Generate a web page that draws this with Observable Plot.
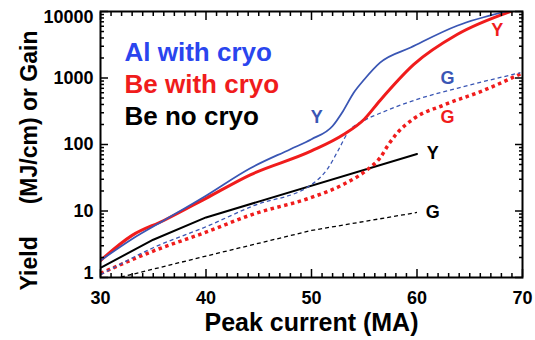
<!DOCTYPE html>
<html><head><meta charset="utf-8">
<script src="https://cdn.jsdelivr.net/npm/d3@7"></script>
<script src="https://cdn.jsdelivr.net/npm/@observablehq/plot@0.6"></script>
<style>
html,body{margin:0;padding:0;background:#fff;}
svg text{white-space:pre;}
g[aria-label="y-axis label"] text{font-size:23px;}
</style></head><body><div id="chart"></div>
<script>
// Peak current (MA) and values for each series
const alYieldI = [30, 33, 36, 40, 44.2, 48, 50, 52, 53, 54, 55, 56.5, 59.4, 63.8, 68.4];
const alYieldV = [1.8, 3.8, 7.2, 17, 44, 85, 120, 190, 320, 600, 950, 1700, 2870, 6100, 10000];
const alGainI = [30, 35, 40, 44.5, 50, 51.6, 52.5, 53.5, 55, 56.5, 59.7, 63.8, 69.8];
const alGainV = [1.1, 2.8, 5.8, 12, 25, 45, 80, 155, 230, 295, 460, 700, 1200];
const beYieldI = [30, 33, 36, 40, 44.2, 50, 53, 55, 56.5, 59.7, 63.8, 69.1];
const beYieldV = [1.8, 4.3, 7.2, 15.5, 35, 80, 140, 240, 460, 1600, 4500, 10300];
const beGainI = [30, 35, 40, 44.5, 50, 53, 55.3, 56.5, 57.3, 58.1, 59.7, 62.5, 66.3, 69.8];
const beGainV = [1.15, 2.5, 4.8, 9, 16, 25, 42, 63, 100, 147, 245, 390, 650, 1150];
const noYieldI = [30, 35, 40, 60];
const noYieldV = [1.4, 3.7, 8, 72];
const noGainI = [30, 40, 50, 60];
const noGainV = [0.85, 2.1, 5.1, 9.5];

const legendLabels = ["Al with cryo", "Be with cryo", "Be no cryo"];
const curveLabels = ["Y", "G", "Y", "G", "Y", "G"];
const curveLabelI = [50.5, 62.9, 67.6, 62.9, 61.5, 61.5];
const curveLabelV = [255, 985, 5150, 255, 73, 9.5];
const xTitle = "Peak current (MA)";
const yTitle = "Yield     (MJ/cm) or Gain     ";

const xMajor = [30, 40, 50, 60, 70];
const xMinor = [31,32,33,34,35,36,37,38,39,41,42,43,44,45,46,47,48,49,51,52,53,54,55,56,57,58,59,61,62,63,64,65,66,67,68,69];
const yMajor = [1, 10, 100, 1000, 10000];
const yMinor = [2,3,4,5,6,7,8,9,20,30,40,50,60,70,80,90,200,300,400,500,600,700,800,900,2000,3000,4000,5000,6000,7000,8000,9000];

const alColor = "#3a56b4", alLegend = "#2a45ee", beColor = "#f01c1c", noColor = "#000000";
const labelColors = [alColor, alColor, beColor, beColor, noColor, noColor];
const legendColors = [alLegend, beColor, noColor];

const rows = (I, V) => I.map((x, i) => ({I: x, v: V[i]}));
const labelRows = curveLabels.map((t, i) => ({t, I: curveLabelI[i], v: curveLabelV[i], c: labelColors[i]}));

const tickOpts = {tickFormat: () => "", label: null, strokeWidth: 1.5};
const yLabelOpts = {anchor: "left", tickSize: 0, tickPadding: 7, fontSize: 18, tickFormat: d => String(d), label: null};

const chart = Plot.plot({
  width: 535, height: 340,
  marginLeft: 100, marginRight: 13, marginTop: 11, marginBottom: 63,
  style: {fontFamily: "'Liberation Sans', Arial, sans-serif", fontWeight: "bold", color: "black", background: "white", overflow: "visible"},
  x: {domain: [30, 70]},
  y: {type: "log", domain: [1, 10000]},
  marks: [
    Plot.line(rows(noGainI, noGainV), {x: "I", y: "v", stroke: noColor, strokeWidth: 1.3, strokeDasharray: "4,3", strokeLinecap: "butt", clip: true}),
    Plot.line(rows(noYieldI, noYieldV), {x: "I", y: "v", stroke: noColor, strokeWidth: 2, clip: true}),
    Plot.line(rows(beGainI, beGainV), {x: "I", y: "v", stroke: beColor, strokeWidth: 3.5, strokeDasharray: "3.5,3.5", strokeLinecap: "butt", curve: "monotone-x", clip: true}),
    Plot.line(rows(alGainI, alGainV), {x: "I", y: "v", stroke: alColor, strokeWidth: 1.3, strokeDasharray: "4,3", strokeLinecap: "butt", curve: "monotone-x", clip: true}),
    Plot.line(rows(beYieldI, beYieldV), {x: "I", y: "v", stroke: beColor, strokeWidth: 3, curve: "monotone-x", clip: true}),
    Plot.line(rows(alYieldI, alYieldV), {x: "I", y: "v", stroke: alColor, strokeWidth: 1.8, curve: "monotone-x", clip: true}),
    Plot.text(labelRows, {x: "I", y: "v", text: "t", fill: "c", fontSize: 18, fontWeight: "bold"}),
    Plot.text([legendLabels[0]], {frameAnchor: "top-left", dx: 24, dy: 41, fill: legendColors[0], fontSize: 26, textAnchor: "start", lineAnchor: "middle"}),
    Plot.text([legendLabels[1]], {frameAnchor: "top-left", dx: 24, dy: 73, fill: legendColors[1], fontSize: 26, textAnchor: "start", lineAnchor: "middle"}),
    Plot.text([legendLabels[2]], {frameAnchor: "top-left", dx: 24, dy: 105, fill: legendColors[2], fontSize: 26, textAnchor: "start", lineAnchor: "middle"}),
    // ticks (inward) on all four sides
    Plot.axisX({anchor: "bottom", ticks: xMajor, tickSize: -8, ...tickOpts}),
    Plot.axisX({anchor: "bottom", ticks: xMinor, tickSize: -4, ...tickOpts}),
    Plot.axisX({anchor: "top", ticks: xMajor, tickSize: -8, ...tickOpts}),
    Plot.axisX({anchor: "top", ticks: xMinor, tickSize: -4, ...tickOpts}),
    Plot.axisY({anchor: "left", ticks: yMajor, tickSize: -8, ...tickOpts}),
    Plot.axisY({anchor: "left", ticks: yMinor, tickSize: -4, ...tickOpts}),
    Plot.axisY({anchor: "right", ticks: yMajor, tickSize: -8, ...tickOpts}),
    Plot.axisY({anchor: "right", ticks: yMinor, tickSize: -4, ...tickOpts}),
    // tick labels
    Plot.axisX({anchor: "bottom", ticks: xMajor, tickSize: 0, tickPadding: 14, fontSize: 18, tickFormat: d => String(d), label: null}),
    Plot.axisY({...yLabelOpts, ticks: yMajor.slice(1, 4)}),
    Plot.axisY({...yLabelOpts, ticks: yMajor.slice(4), dy: 6}),
    Plot.axisY({...yLabelOpts, ticks: yMajor.slice(0, 1), dy: -4}),
    // axis titles
    Plot.text([xTitle], {frameAnchor: "bottom", dy: 45, fontSize: 25, lineAnchor: "middle"}),
    Plot.axisY({anchor: "left", ticks: [], tickSize: 0, label: yTitle, labelArrow: false, labelAnchor: "center", labelOffset: 80}),
    Plot.frame({stroke: "black", strokeWidth: 2})
  ]
});
document.getElementById("chart").appendChild(chart);
</script></body></html>
